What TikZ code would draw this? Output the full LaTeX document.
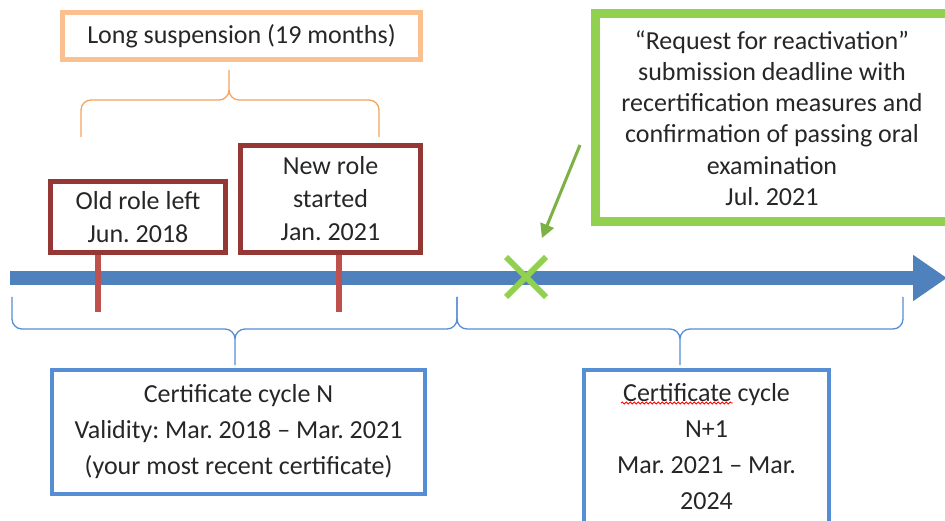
\documentclass[tikz,border=0pt]{standalone}
\usepackage{fontspec}
\setmainfont{Carlito}
\usetikzlibrary{arrows.meta,decorations.pathmorphing}
\definecolor{axisblue}{HTML}{4F81BD}
\definecolor{boxblue}{HTML}{558ED5}
\definecolor{rolered}{HTML}{953735}
\definecolor{tickred}{HTML}{C0504D}
\definecolor{suspor}{HTML}{FAC090}
\definecolor{bracor}{HTML}{F6A35E}
\definecolor{limegreen}{HTML}{92D050}
\definecolor{ink}{HTML}{262626}
\frenchspacing

\begin{document}
\begin{tikzpicture}[x=1pt,y=-1pt,
  box/.style={draw,inner sep=0pt,align=center,text=ink,font=\fontsize{26}{33}\selectfont},
  suspbox/.style={box,draw=suspor,line width=5pt,minimum width=358pt,minimum height=47pt},
  rolebox/.style={box,draw=rolered,line width=5pt,minimum height=71pt},
  deadbox/.style={box,draw=limegreen,line width=9pt,minimum width=354pt,minimum height=208pt,font=\fontsize{26}{31.3}\selectfont},
  cyclebox/.style={box,draw=boxblue,line width=4.5pt,font=\fontsize{26}{36}\selectfont},
  curly/.style={line width=1.3pt,rounded corners=10pt},
  tickline/.style={tickred,line width=5.5pt},
  crossline/.style={limegreen,line width=6pt},
  pointer/.style={limegreen!85!black,line width=3pt,-{Triangle[length=14pt,width=14pt]},shorten >=42pt}]
\clip (0,0) rectangle (945,521);
\node[suspbox] (suspension) at (241.5,36) {Long suspension (19 months)};
\node[rolebox,minimum width=175pt] (oldrole) at (138,217) {Old role left\\Jun. 2018};
\node[rolebox,minimum width=180pt,minimum height=107pt] (newrole) at (330.5,199) {New role\\started\\Jan. 2021};
\node[deadbox] (deadline) at (772,118) {“Request for reactivation”\\submission deadline with\\recertification measures and\\confirmation of passing oral\\examination\\Jul. 2021};
\node[cyclebox,minimum width=373pt,minimum height=124pt] (cycleN) at (238.5,432) {Certificate cycle N\\Validity: Mar. 2018 -- Mar. 2021\\(your most recent certificate)};
\node[cyclebox,minimum width=245pt,minimum height=154pt] (cycleNext) at (706.5,447) {Certificate cycle\\N+1\\Mar. 2021 -- Mar.\\2024};
\draw[red,line width=0.8pt,decorate,decoration={snake,amplitude=1pt,segment length=4pt}] (621,403) -- (733,403);
\draw[curly,bracor] (81,137) -- (81,100) -- (229,100) -- (229,70) (229,70) -- (229,100) -- (379,100) -- (379,137);
\foreach \a/\m/\b in {12/235/457,457/680/903}
  \draw[curly,boxblue] (\a,297) -- (\a,329) -- (\m,329) -- (\m,365) (\m,365) -- (\m,329) -- (\b,329) -- (\b,297);
\coordinate (t0) at (10,278);
\coordinate (t1) at (947,278);
\draw[axisblue,line width=14pt,-{Triangle[length=34pt,width=44pt]}] (t0) -- (t1);
\foreach \t/\b in {98/oldrole,339/newrole} {
  \coordinate (tip) at (\t,312);
  \draw[tickline] (tip |- \b.south) -- (tip);
}
\coordinate (cross) at (526,277);
\draw[crossline] (cross) +(-20,-20) -- +(20,20) +(-20,20) -- +(20,-20);
\coordinate (hint) at (580,145);
\draw[pointer] (hint) -- (cross);
\end{tikzpicture}
\end{document}
